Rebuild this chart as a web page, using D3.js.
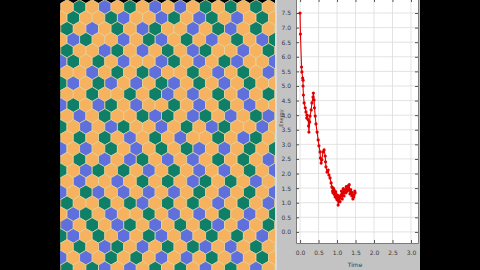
<!DOCTYPE html>
<html>
<head>
<meta charset="utf-8">
<script src="https://cdn.jsdelivr.net/npm/d3@7"></script>
<style>
  body { margin: 0; background: #000; }
  svg { display: block; }
</style>
</head>
<body>
<svg id="chart" width="480" height="270"></svg>
<script>
// hex lattice colours, one string per row (O = orange, G = green, B = blue)
const hexRows = [
  "OGOBOGOBOBOGOGOGOB",
  "OGOOGBOOBGOBGOBOGO",
  "GOBOGOBGOOBOGBOGOB",
  "OBGOOBOGBOGOBOGOBG",
  "GOOBGOBOGOBGOOBOGO",
  "BGOGOBOOBGOBOGBOOB",
  "OOBOGOGBOOGOBOGOBG",
  "GBOGBOBOGBOGOBOGOO",
  "OOGOOGOGBOBOGOBOGB",
  "BGOBGOBOOGOBOGOBOO",
  "OBOGOOGBGOBGOBOGBG",
  "GOBOBGOOBOGOBGOOBO",
  "OGOGOBOGOBOOGOBGOB",
  "BOBOGOBOGOGBOBOGOG",
  "OGOBOBGOBOBOGOGOBO",
  "GOBGOGOBOGOBOBOGOB",
  "OBOOBOGOGOBGOGOBOG",
  "BOGBOBOBOBOGOBOGOB",
  "GOOGOGBOGOGOBOGOBO",
  "OBGOBOOGOBOBOGOBOG",
  "BOGOBGOBOGOGBOBOGO",
  "GBOGOBOGBOBOGOGOBO",
  "OGOBGOBOGOGBOBOGOB",
  "BOBOGOGOBOBOGOBOGO",
  "GOGBOBOGOGOBOGOBOG"
];
const hexColors = { O: "#f7b25f", G: "#0f7f68", B: "#5f6fdc" };

// trace on the right
const timeValues = [0.00, 0.01, 0.04, 0.05, 0.07, 0.08, 0.08, 0.09, 0.11, 0.14, 0.16, 0.18, 0.19, 0.22, 0.23, 0.24,
  0.26, 0.27, 0.30, 0.32, 0.35, 0.36, 0.38, 0.39, 0.41, 0.43, 0.46, 0.49, 0.51, 0.54, 0.55, 0.57, 0.59, 0.62,
  0.65, 0.68, 0.69, 0.70, 0.73, 0.76, 0.78, 0.81, 0.84,
  0.86, 0.88, 0.89, 0.90, 0.92, 0.93, 0.95, 0.96, 0.97, 0.99, 1.00, 1.02, 1.03, 1.05, 1.06, 1.08, 1.09, 1.11,
  1.12, 1.14, 1.16, 1.17, 1.19, 1.20, 1.22, 1.24, 1.25, 1.27, 1.28, 1.30, 1.32, 1.33, 1.35, 1.37, 1.38, 1.40,
  1.41, 1.43, 1.45, 1.46, 1.48, 1.49];
const energyValues = [7.50, 6.78, 5.65, 5.48, 5.27, 5.20, 5.00, 4.69, 4.42, 4.25, 4.11, 3.90, 4.00, 3.84, 3.63, 3.42,
  3.77, 3.97, 4.18, 4.42, 4.62, 4.76, 4.52, 4.25, 3.97, 3.70, 3.42, 3.15, 2.95, 2.74, 2.53, 2.36, 2.47, 2.74,
  2.81, 2.60, 2.40, 2.23, 2.05, 2.12, 1.95, 1.85, 1.68,
  1.54, 1.40, 1.34, 1.50, 1.44, 1.28, 1.20, 1.38, 1.30, 1.15, 1.10, 1.25, 0.92, 1.05, 1.16, 1.03, 1.22, 1.27,
  1.40, 1.13, 1.34, 1.48, 1.23, 1.36, 1.44, 1.34, 1.55, 1.51, 1.40, 1.58, 1.44, 1.62, 1.30, 1.45, 1.37, 1.23,
  1.35, 1.13, 1.20, 1.27, 1.40, 1.34];
const xTicks = [0, 0.5, 1, 1.5, 2, 2.5, 3];
const yTicks = [0, 0.5, 1, 1.5, 2, 2.5, 3, 3.5, 4, 4.5, 5, 5.5, 6, 6.5, 7, 7.5];

const svg = d3.select("#chart");

svg.append("rect").attr("width", 480).attr("height", 270).attr("fill", "#000");

// ---- hex panel ----
const hexR = 7.27;
const colX = d3.scaleLinear().domain([0, 1]).range([67, 79.6]);
const rowY = d3.scaleLinear().domain([0, 1]).range([7, 17.9]);

svg.append("clipPath").attr("id", "hexClip")
  .append("rect").attr("x", 60).attr("y", -10).attr("width", 215).attr("height", 290);

const hexPath = d3.line()(d3.range(6).map(k => {
  const a = Math.PI / 3 * k - Math.PI / 2;
  return [hexR * Math.cos(a), hexR * Math.sin(a)];
})) + "Z";

const cells = [];
hexRows.forEach((row, i) => {
  row.split("").forEach((c, j) => {
    cells.push({ x: colX(j - (i % 2) * 0.5), y: rowY(i), c });
  });
});

svg.append("g").attr("clip-path", "url(#hexClip)")
  .selectAll("path").data(cells).enter().append("path")
  .attr("d", hexPath)
  .attr("transform", d => `translate(${d.x},${d.y})`)
  .attr("fill", d => hexColors[d.c])
  .attr("stroke", "#e8d8a0")
  .attr("stroke-width", 0.8);

// ---- plot panel ----
svg.append("rect").attr("x", 275).attr("y", 0).attr("width", 145).attr("height", 270).attr("fill", "#c3c3c3");
svg.append("rect").attr("x", 275).attr("y", 0).attr("width", 2).attr("height", 270).attr("fill", "#dadada");

const ax = { left: 296, right: 418, top: -1, bottom: 243 };
const x = d3.scaleLinear().domain([-0.11, 3.19]).range([ax.left, ax.right]);
const y = d3.scaleLinear().domain([-0.38, 7.98]).range([ax.bottom, ax.top]);

svg.append("rect").attr("x", ax.left).attr("y", ax.top)
  .attr("width", ax.right - ax.left).attr("height", ax.bottom - ax.top)
  .attr("fill", "#fff");

const grid = svg.append("g").attr("stroke", "#dcdcdc").attr("stroke-width", 0.8);
grid.selectAll(".vx").data(xTicks).enter().append("line")
  .attr("x1", d => x(d)).attr("x2", d => x(d)).attr("y1", ax.top).attr("y2", ax.bottom);
grid.selectAll(".hy").data(yTicks).enter().append("line")
  .attr("y1", d => y(d)).attr("y2", d => y(d)).attr("x1", ax.left).attr("x2", ax.right);

// axes with inward ticks on all four sides
const tickStyle = g => {
  g.select(".domain").attr("stroke", "#7a7a7a");
  g.selectAll(".tick line").attr("stroke", "#555");
  g.selectAll("text").attr("fill", "#3a3a3a").attr("font-size", 6).attr("font-family", "DejaVu Sans");
};
svg.append("g").attr("transform", `translate(0,${ax.bottom})`)
  .call(d3.axisBottom(x).tickValues(xTicks).tickFormat(d3.format(".1f")).tickSizeInner(-3).tickSizeOuter(0).tickPadding(8))
  .call(tickStyle);
svg.append("g").attr("transform", `translate(0,${ax.top})`)
  .call(d3.axisTop(x).tickValues(xTicks).tickFormat("").tickSizeInner(-3).tickSizeOuter(0))
  .call(tickStyle);
svg.append("g").attr("transform", `translate(${ax.left},0)`)
  .call(d3.axisLeft(y).tickValues(yTicks).tickFormat(d3.format(".1f")).tickSizeInner(-3).tickSizeOuter(0).tickPadding(5))
  .call(tickStyle);
svg.append("g").attr("transform", `translate(${ax.right},0)`)
  .call(d3.axisRight(y).tickValues(yTicks).tickFormat("").tickSizeInner(-3).tickSizeOuter(0))
  .call(tickStyle);

svg.append("text").attr("x", 355).attr("y", 267).attr("text-anchor", "middle")
  .attr("font-size", 6).attr("font-family", "DejaVu Sans").attr("fill", "#3a3a3a").text("Time");
svg.append("text").attr("transform", "translate(283,118) rotate(-90)").attr("text-anchor", "middle")
  .attr("font-size", 5).attr("font-family", "DejaVu Sans").attr("fill", "#3a3a3a").text("Energy");

// ---- trace ----
const pts = timeValues.map((t, i) => [t, energyValues[i]]);
svg.append("path").datum(pts)
  .attr("d", d3.line().x(d => x(d[0])).y(d => y(d[1])))
  .attr("fill", "none").attr("stroke", "#e00000").attr("stroke-width", 1.1);
svg.append("g").selectAll("circle").data(pts).enter().append("circle")
  .attr("cx", d => x(d[0])).attr("cy", d => y(d[1])).attr("r", 1.6)
  .attr("fill", "#e00000");
</script>
</body>
</html>
